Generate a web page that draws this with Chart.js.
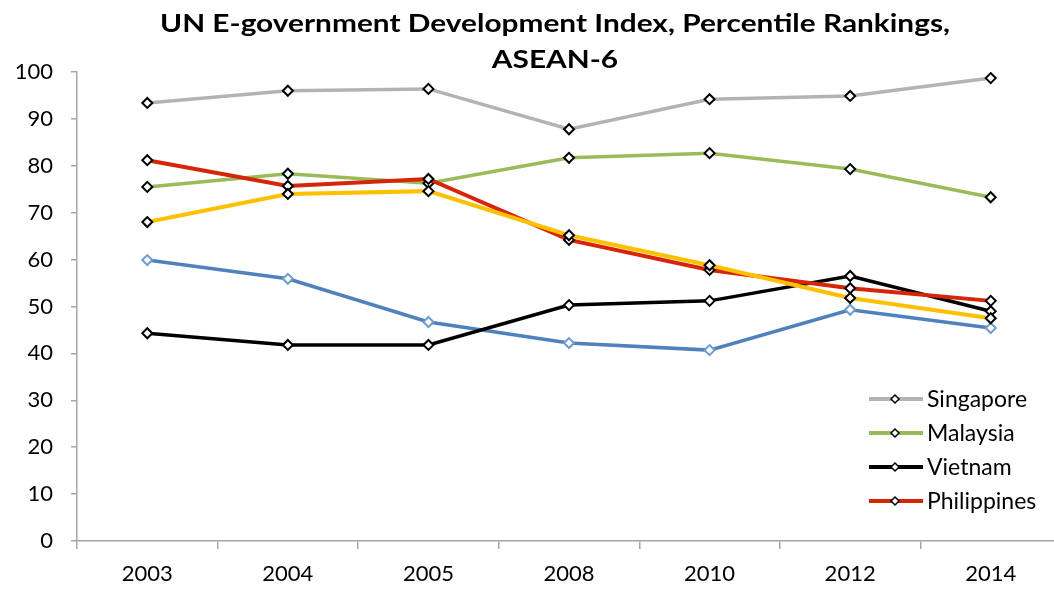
<!DOCTYPE html>
<html>
<head>
<meta charset="utf-8">
<script src="https://cdn.jsdelivr.net/npm/chart.js@4.4.1/dist/chart.umd.min.js"></script>
<style>
  html, body { margin: 0; padding: 0; background: #fff; overflow: hidden; }
  canvas { display: block; }
</style>
</head>
<body>
<canvas id="egovChart" width="1068" height="589"></canvas>
<script>
// --- Data ---
const years = ['2003', '2004', '2005', '2008', '2010', '2012', '2014'];
const yTicks = [0, 10, 20, 30, 40, 50, 60, 70, 80, 90, 100];

const singapore   = [93.4, 96.0, 96.4, 87.8, 94.2, 94.9, 98.7];
const malaysia    = [75.5, 78.3, 76.3, 81.7, 82.7, 79.3, 73.3];
const vietnam     = [44.3, 41.8, 41.8, 50.3, 51.2, 56.5, 49.0];
const philippines = [81.2, 75.7, 77.2, 64.2, 57.8, 53.9, 51.2];
const thailand    = [68.0, 74.0, 74.6, 65.2, 58.8, 51.8, 47.5];
const indonesia   = [59.9, 55.9, 46.7, 42.2, 40.7, 49.3, 45.4];

const legendNames = ['Singapore', 'Malaysia', 'Vietnam', 'Philippines'];
const titleLines = ['UN E-government Development Index, Percentile Rankings,', 'ASEAN-6'];

const FONT = 'Lato, "Open Sans", sans-serif';

function series(label, data, color, width, order, markerColor) {
    return {
        label: label,
        data: data,
        borderColor: color,
        borderWidth: width,
        pointStyle: 'rectRot',
        pointRadius: 5,
        pointHoverRadius: 5,
        pointBorderWidth: 2,
        pointBackgroundColor: '#fff',
        pointBorderColor: markerColor || '#000',
        tension: 0,
        order: order
    };
}

// Title + legend drawn on top of the chart
const overlay = {
    id: 'overlay',
    afterDraw(chart) {
        const ctx = chart.ctx;
        ctx.save();
        ctx.fillStyle = '#000';
        ctx.textAlign = 'center';
        ctx.textBaseline = 'middle';
        ctx.font = 'bold 24px ' + FONT;
        // stretch the first line to the reference width, same factor for the second
        const sx = 790 / ctx.measureText(titleLines[0]).width;
        ctx.save();
        ctx.translate(555, 0);
        ctx.scale(sx, 1);
        ctx.fillText(titleLines[0], 0, 24);
        ctx.fillText(titleLines[1], 0, 60);
        ctx.restore();

        // legend
        ctx.font = '23px ' + FONT;
        ctx.textAlign = 'left';
        legendNames.forEach((name, i) => {
            const ds = chart.data.datasets.find(d => d.label === name);
            const y = 399 + i * 34;
            ctx.strokeStyle = ds.borderColor;
            ctx.lineWidth = 4;
            ctx.beginPath();
            ctx.moveTo(869, y);
            ctx.lineTo(923, y);
            ctx.stroke();
            // marker
            ctx.fillStyle = '#fff';
            ctx.strokeStyle = '#000';
            ctx.lineWidth = 1.5;
            ctx.beginPath();
            ctx.moveTo(895, y - 4);
            ctx.lineTo(899, y);
            ctx.lineTo(895, y + 4);
            ctx.lineTo(891, y);
            ctx.closePath();
            ctx.fill();
            ctx.stroke();
            ctx.fillStyle = '#000';
            ctx.fillText(name, 927, y + 1);
        });
        ctx.restore();
    }
};

const ctx = document.getElementById('egovChart').getContext('2d');

new Chart(ctx, {
    type: 'line',
    data: {
        labels: years,
        datasets: [
            series('Singapore', singapore, '#b3b3b3', 3.5, 5),
            series('Malaysia', malaysia, '#9bbb59', 3.5, 4),
            series('Vietnam', vietnam, '#000000', 3.5, 2),
            series('Philippines', philippines, '#d62508', 4, 1),
            series('Thailand', thailand, '#ffc000', 4, 0),
            series('Indonesia', indonesia, '#4f81bd', 3.5, 3, '#6f9bd1')
        ]
    },
    options: {
        responsive: false,
        animation: false,
        events: [],
        layout: {
            padding: { top: 72, right: 0, bottom: 0, left: 0 }
        },
        plugins: {
            legend: { display: false },
            title: { display: false },
            tooltip: { enabled: false }
        },
        scales: {
            x: {
                offset: true,
                border: { display: true, color: '#a6a6a6', width: 1.5 },
                grid: {
                    display: true,
                    offset: true,
                    drawOnChartArea: false,
                    drawTicks: true,
                    tickLength: 8,
                    color: '#a6a6a6',
                    lineWidth: 1.5
                },
                ticks: {
                    color: '#000',
                    font: { family: FONT, size: 22 },
                    padding: 12,
                    maxRotation: 0
                },
                afterFit(scale) { scale.height = 48; }
            },
            y: {
                min: 0,
                max: 100,
                afterBuildTicks(scale) {
                    scale.ticks = yTicks.map(v => ({ value: v }));
                },
                border: { display: true, color: '#a6a6a6', width: 1.5 },
                grid: {
                    display: true,
                    drawOnChartArea: false,
                    drawTicks: true,
                    tickLength: 6,
                    color: '#a6a6a6',
                    lineWidth: 1.5
                },
                ticks: {
                    color: '#000',
                    font: { family: FONT, size: 22 },
                    padding: 18
                },
                afterFit(scale) { scale.width = 77; }
            }
        }
    },
    plugins: [overlay]
});
</script>
</body>
</html>
